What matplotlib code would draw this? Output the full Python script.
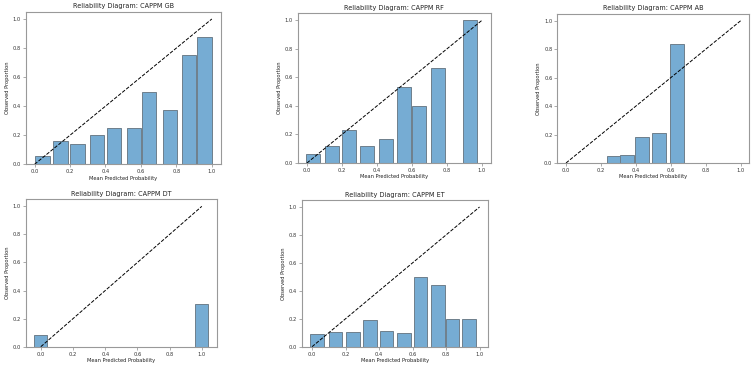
import matplotlib
matplotlib.use("Agg")
import matplotlib.pyplot as plt

titles = ["CAPPM GB", "CAPPM RF", "CAPPM AB", "CAPPM DT", "CAPPM ET"]

gb_x = [0.045, 0.146, 0.242, 0.352, 0.446, 0.562, 0.646, 0.764, 0.871, 0.959]
gb_y = [0.06, 0.159, 0.138, 0.20, 0.25, 0.25, 0.50, 0.375, 0.75, 0.875]

rf_x = [0.037, 0.145, 0.241, 0.346, 0.451, 0.557, 0.642, 0.747, 0.931]
rf_y = [0.065, 0.119, 0.229, 0.121, 0.166, 0.533, 0.40, 0.667, 1.0]

ab_x = [0.272, 0.352, 0.433, 0.530, 0.638]
ab_y = [0.052, 0.056, 0.183, 0.213, 0.834]

dt_x = [0.0, 1.0]
dt_y = [0.085, 0.304]

et_x = [0.029, 0.141, 0.244, 0.345, 0.445, 0.549, 0.646, 0.752, 0.838, 0.937]
et_y = [0.091, 0.103, 0.103, 0.194, 0.11, 0.098, 0.50, 0.445, 0.20, 0.20]

xs = [gb_x, rf_x, ab_x, dt_x, et_x]
ys = [gb_y, rf_y, ab_y, dt_y, et_y]

positions = [
    [0.0341, 0.5523, 0.259, 0.4158],
    [0.3953, 0.5559, 0.2563, 0.408],
    [0.7401, 0.5559, 0.255, 0.4068],
    [0.0341, 0.0553, 0.254, 0.4016],
    [0.4007, 0.0553, 0.2474, 0.3997],
]

fig = plt.figure(figsize=(7.53, 3.67), dpi=100)
for pos, t, x, y in zip(positions, titles, xs, ys):
    ax = fig.add_axes(pos)
    ax.bar(x, y, width=0.08, color="#76acd3", edgecolor="#6e7f8c", linewidth=0.7)
    ax.plot([0, 1], [0, 1], "k--", linewidth=0.7)
    ax.set_title(f"Reliability Diagram: {t}", fontsize=4.7, pad=2.5, color="#222222")
    ax.set_xlabel("Mean Predicted Probability", fontsize=3.7, labelpad=1, color="#222222")
    ax.set_ylabel("Observed Proportion", fontsize=3.7, labelpad=2, color="#222222")
    ax.set_xticks([0, 0.2, 0.4, 0.6, 0.8, 1.0])
    ax.set_yticks([0, 0.2, 0.4, 0.6, 0.8, 1.0])
    ax.tick_params(labelsize=3.7, length=2, width=0.5, pad=1.5, color="#888888",
                   labelcolor="#333333")
    for s in ax.spines.values():
        s.set_linewidth(0.8)
        s.set_color("#999999")

fig.savefig("out.png", dpi=100)
